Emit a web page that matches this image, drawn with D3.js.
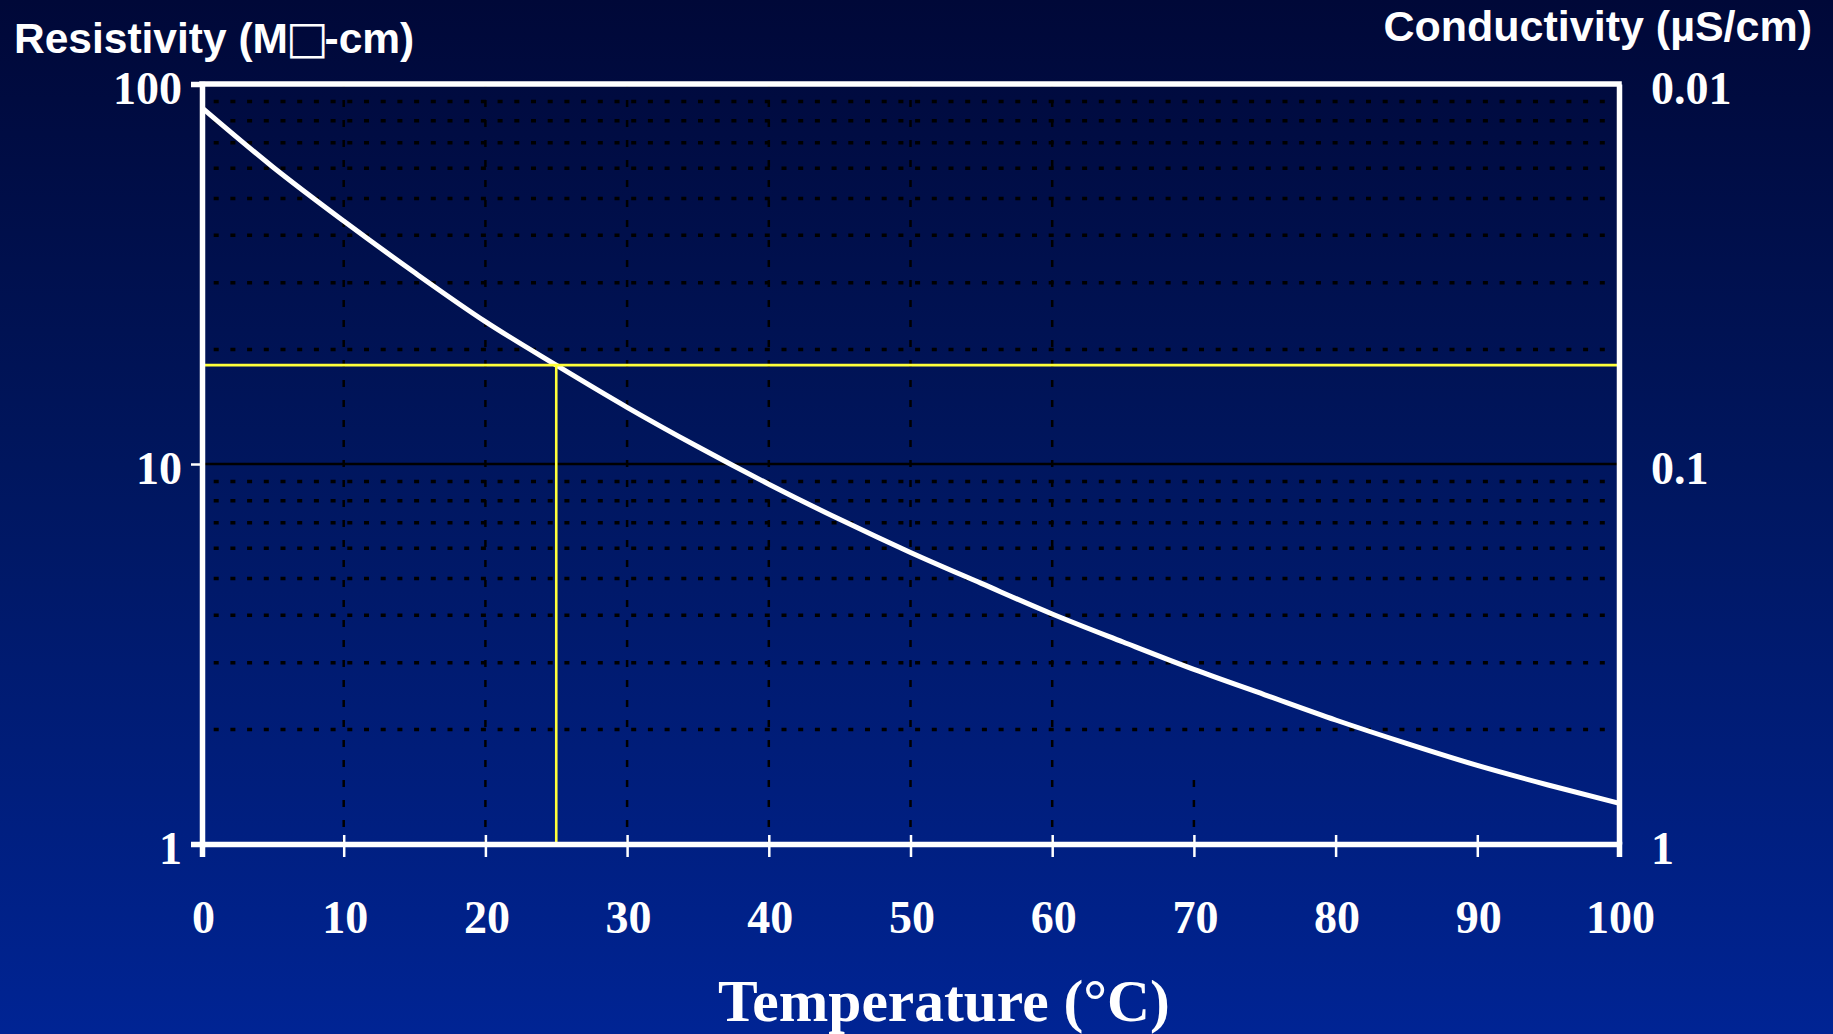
<!DOCTYPE html>
<html>
<head>
<meta charset="utf-8">
<script src="https://cdn.jsdelivr.net/npm/d3@7"></script>
<style>
  html, body { margin: 0; padding: 0; background: #001060; }
  svg { display: block; }
</style>
</head>
<body>
<svg id="chart" width="1833" height="1034"></svg>
<script>
// ---- data ----
const temperatures = [0, 5, 10, 15, 20, 25, 30, 35, 40, 45, 50, 55, 60, 65, 70, 75, 80, 85, 90, 95, 100];
const resistivity  = [86.6, 60.5, 43.6, 31.9, 23.7, 18.2, 14.1, 11.1, 8.85, 7.15, 5.85, 4.85, 4.03, 3.40, 2.88, 2.47, 2.12, 1.84, 1.61, 1.43, 1.28];
const xTickValues = [0, 10, 20, 30, 40, 50, 60, 70, 80, 90, 100];
const resistivityTicks = [1, 10, 100];
const conductivityTicks = [1, 0.1, 0.01];
const minorGridValues = [2, 3, 4, 5, 6, 7, 8, 9, 20, 30, 40, 50, 60, 70, 80, 90];
const majorGridValues = [10];
const verticalGridTemps = [10, 20, 30, 40, 50, 60, 70];
const verticalGridTop   = [100, 100, 100, 100, 100, 100, 1.5];
const refTemperature = 25;
const refResistivity = 18.2;
const titleLeftParts = ["Resistivity (M", "\u25A1", "-cm)"];
const titleRight = "Conductivity (\u00B5S/cm)";
const titleX = "Temperature (\u00B0C)";

(function () {
// ---- layout ----
const W = 1833, H = 1034;
const mLeft = 202, mRight = 1619, mTop = 84, mBottom = 844;
const svg = d3.select("#chart");

const defs = svg.append("defs");
const grad = defs.append("linearGradient").attr("id", "bg").attr("x1", 0).attr("y1", 0).attr("x2", 0).attr("y2", 1);
grad.append("stop").attr("offset", "0%").attr("stop-color", "#000838");
grad.append("stop").attr("offset", "45%").attr("stop-color", "#00165e");
grad.append("stop").attr("offset", "100%").attr("stop-color", "#002494");
svg.append("rect").attr("width", W).attr("height", H).attr("fill", "url(#bg)");

const x = d3.scaleLinear().domain([0, 100]).range([mLeft, mRight]);
const y = d3.scaleLog().domain([1, 100]).range([mBottom, mTop]);
const yc = d3.scaleLog().domain([1, 0.01]).range([mBottom, mTop]);

const serif = "'Liberation Serif', 'Times New Roman', serif";
const sans = "'Liberation Sans', Arial, sans-serif";
const tickFont = "46px";

// ---- gridlines ----
const grid = svg.append("g");
grid.selectAll("line.minor").data(minorGridValues).join("line")
  .attr("class", "minor")
  .attr("x1", x(0)).attr("x2", x(100) - 5)
  .attr("y1", d => y(d)).attr("y2", d => y(d))
  .attr("stroke", "#000").attr("stroke-width", 3.5)
  .attr("stroke-dasharray", "5 11.7").attr("stroke-dashoffset", 5);

grid.selectAll("line.major").data(majorGridValues).join("line")
  .attr("class", "major")
  .attr("x1", x(0)).attr("x2", x(100))
  .attr("y1", d => y(d)).attr("y2", d => y(d))
  .attr("stroke", "#000").attr("stroke-width", 2.5);

grid.selectAll("line.vert").data(verticalGridTemps).join("line")
  .attr("class", "vert")
  .attr("x1", d => x(d)).attr("x2", d => x(d))
  .attr("y1", y(1)).attr("y2", (d, i) => y(verticalGridTop[i]))
  .attr("stroke", "#000").attr("stroke-width", 2.5)
  .attr("stroke-dasharray", "7 13").attr("stroke-dashoffset", 3);

// ---- curve ----
const pts = temperatures.map((t, i) => [t, resistivity[i]]);
svg.append("path").datum(pts)
  .attr("fill", "none").attr("stroke", "#fff").attr("stroke-width", 5)
  .attr("d", d3.line().x(d => x(d[0])).y(d => y(d[1])).curve(d3.curveMonotoneX));

// ---- reference (yellow) lines ----
svg.append("line")
  .attr("x1", x(0)).attr("x2", x(100))
  .attr("y1", y(refResistivity)).attr("y2", y(refResistivity))
  .attr("stroke", "#ffff3a").attr("stroke-width", 2.6);
svg.append("line")
  .attr("x1", x(refTemperature)).attr("x2", x(refTemperature))
  .attr("y1", y(1)).attr("y2", y(refResistivity))
  .attr("stroke", "#ffff3a").attr("stroke-width", 2.6);

// ---- frame: top border ----
svg.append("line")
  .attr("x1", x(0)).attr("x2", x(100))
  .attr("y1", y(100)).attr("y2", y(100))
  .attr("stroke", "#fff").attr("stroke-width", 5.5).attr("stroke-linecap", "square");

// ---- axes ----
const gx = svg.append("g").attr("transform", `translate(0,${mBottom})`)
  .call(d3.axisBottom(x).tickValues(xTickValues).tickSizeOuter(0).tickSize(13).tickPadding(0).tickFormat(d3.format("d")));
gx.select(".domain").attr("stroke", "#fff").attr("stroke-width", 5.5);
gx.selectAll(".tick line").attr("stroke", "#fff").attr("stroke-width", 2.5).attr("y1", -9).attr("y2", 13);
gx.selectAll(".tick text")
  .attr("fill", "#fff").attr("y", 89).attr("dy", 0).attr("dx", 1)
  .style("font-family", serif).style("font-weight", "bold").style("font-size", tickFont);

const gl = svg.append("g").attr("transform", `translate(${mLeft},0)`)
  .call(d3.axisLeft(y).tickValues(resistivityTicks).tickSizeOuter(0).tickSize(11).tickPadding(9).tickFormat(d3.format("d")));
gl.select(".domain").attr("stroke", "#fff").attr("stroke-width", 5.5);
gl.selectAll(".tick line").attr("stroke", "#fff").attr("stroke-width", 2.5);
gl.selectAll(".tick text")
  .attr("fill", "#fff").attr("dy", "0.42em")
  .style("font-family", serif).style("font-weight", "bold").style("font-size", tickFont);

const gr = svg.append("g").attr("transform", `translate(${mRight},0)`)
  .call(d3.axisRight(yc).tickValues(conductivityTicks).tickSizeOuter(0).tickSize(0).tickPadding(32).tickFormat(d => String(d)));
gr.select(".domain").attr("stroke", "#fff").attr("stroke-width", 5.5);
gr.selectAll(".tick text")
  .attr("fill", "#fff").attr("dy", "0.42em")
  .style("font-family", serif).style("font-weight", "bold").style("font-size", tickFont);

// ---- titles ----
const tl = svg.append("text")
  .attr("x", 14).attr("y", 53)
  .attr("fill", "#fff")
  .style("font-family", sans).style("font-weight", "bold").style("font-size", "42.5px");
tl.append("tspan").text(titleLeftParts[0]);
tl.append("tspan").text(titleLeftParts[1])
  .style("font-family", "'DejaVu Sans', sans-serif").style("font-size", "45px").style("font-weight", "normal")
  .attr("dx", -2);
tl.append("tspan").text(titleLeftParts[2]).attr("dx", -4);

svg.append("text").text(titleRight)
  .attr("x", 1812).attr("y", 41).attr("text-anchor", "end")
  .attr("fill", "#fff")
  .style("font-family", sans).style("font-weight", "bold").style("font-size", "43px");
svg.append("text").text(titleX)
  .attr("x", 944).attr("y", 1021).attr("text-anchor", "middle")
  .attr("fill", "#fff")
  .style("font-family", serif).style("font-weight", "bold").style("font-size", "59.5px");
})();
</script>
</body>
</html>
